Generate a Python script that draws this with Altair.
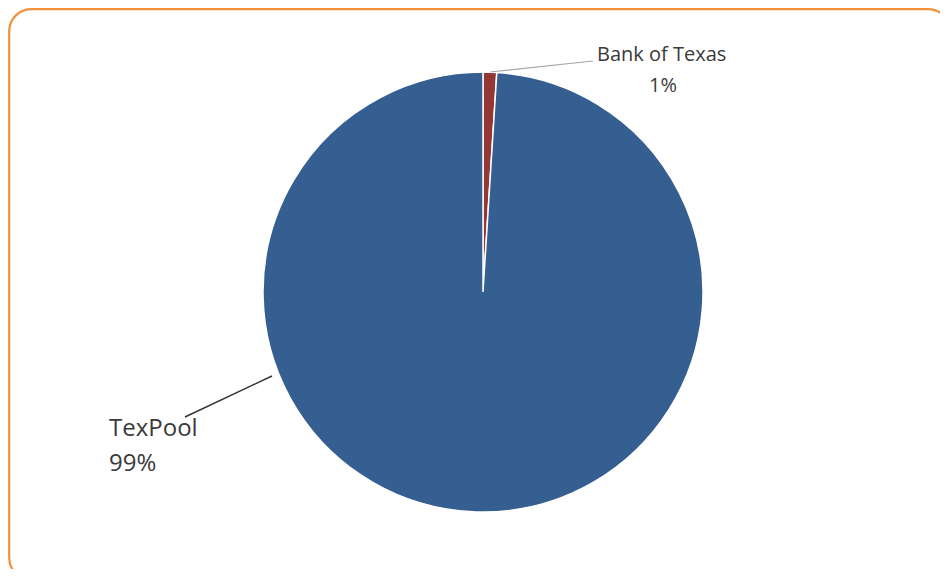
import altair as alt
import pandas as pd

categories = ["Bank of Texas", "TexPool"]
values = [1.0, 99.0]
pct_labels = ["1%", "99%"]
colors = ["#953735", "#365F91"]

df = pd.DataFrame({
    "category": categories,
    "value": values,
    "pct": pct_labels,
    "order": list(range(len(categories))),
})

base = alt.Chart(df)

pie = base.mark_arc(radius=220, stroke="white", strokeWidth=1.5).encode(
    theta=alt.Theta("value:Q", stack=True),
    order=alt.Order("order:Q"),
    color=alt.Color("category:N", scale=alt.Scale(domain=categories, range=colors), legend=None),
    x=alt.value(475),
    y=alt.value(284),
)

font = "Open Sans"
txt_color = "#3a3a3a"

bot = base.transform_filter(alt.datum.category == "Bank of Texas")
tex = base.transform_filter(alt.datum.category == "TexPool")

border = bot.mark_rect(fill=None, filled=False, stroke="#F0913C", strokeWidth=2.2, cornerRadius=22).encode(
    x=alt.value(1.2), y=alt.value(1.2), x2=alt.value(942), y2=alt.value(572)
)

bot_line = bot.mark_rule(color="#a6a6a6", strokeWidth=1.2).encode(
    x=alt.value(482), y=alt.value(64), x2=alt.value(585), y2=alt.value(53)
)
tex_line = tex.mark_rule(color="#333333", strokeWidth=1.5).encode(
    x=alt.value(264), y=alt.value(368), x2=alt.value(177), y2=alt.value(409)
)

bot_name = bot.mark_text(font=font, fontSize=20, color=txt_color, align="left", baseline="middle").encode(
    text="category:N", x=alt.value(589), y=alt.value(47)
)
bot_pct = bot.mark_text(font=font, fontSize=20, color=txt_color, align="center", baseline="middle").encode(
    text="pct:N", x=alt.value(655), y=alt.value(78)
)
tex_name = tex.mark_text(font=font, fontSize=24, color=txt_color, align="left", baseline="middle").encode(
    text="category:N", x=alt.value(101), y=alt.value(421)
)
tex_pct = tex.mark_text(font=font, fontSize=24, color=txt_color, align="left", baseline="middle").encode(
    text="pct:N", x=alt.value(101), y=alt.value(456)
)

chart = alt.layer(border, pie, bot_line, tex_line, bot_name, bot_pct, tex_name, tex_pct).properties(
    width=932, height=561, padding=0, autosize=alt.AutoSizeParams(type="none")
).configure_view(
    stroke=None
)

chart.save("out.html", embed_options={"renderer": "svg", "actions": False})
